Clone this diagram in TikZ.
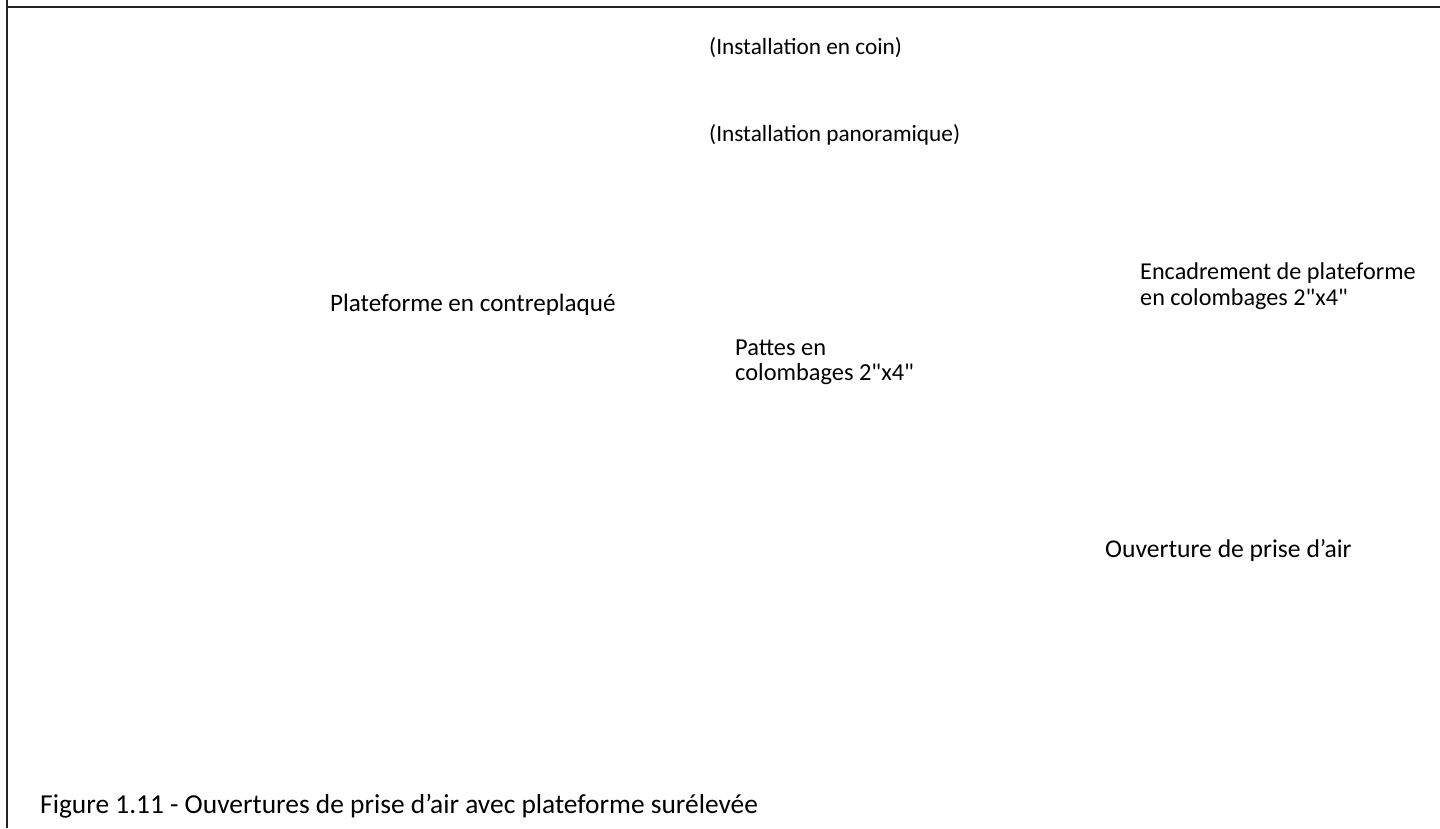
\documentclass[tikz,border=0pt]{standalone}
\usepackage{fontspec}
\setmainfont{Carlito}
\newfontfamily\plainq{Carlito}
\newcommand{\qd}{{\plainq"}}
\begin{document}
\begin{tikzpicture}[x=1pt,y=-1pt,
  lbl/.style={anchor=base west,inner sep=0pt,align=left},
  frame/.style={line width=2pt,draw={rgb,255:red,34;green,34;blue,34}}]
\useasboundingbox (0,0) rectangle (1440,828);
\coordinate (tl) at (7,7);
\coordinate (tr) at (1440,7);
\coordinate (ttop) at (7,0);
\coordinate (bl) at (7,828);
\draw[frame] (ttop) -- (bl);
\draw[frame] (tl) -- (tr);
\node[lbl,font=\fontsize{23.3}{26}\selectfont] (coin) at (709,54) {(Installation en coin)};
\node[lbl,font=\fontsize{23.3}{26}\selectfont] (pano) at (709,141) {(Installation panoramique)};
\node[lbl,font=\fontsize{24.2}{26}\selectfont] (enc) at (1140,305) {Encadrement de plateforme\\en colombages 2\qd x4\qd};
\node[lbl,font=\fontsize{25.1}{26}\selectfont] (plat) at (330,311) {Plateforme en contreplaqué};
\node[lbl,font=\fontsize{24.4}{25}\selectfont] (pattes) at (735,380) {Pattes en\\colombages 2\qd x4\qd};
\node[lbl,font=\fontsize{25.6}{26}\selectfont] (ouv) at (1105,557) {Ouverture de prise d’air};
\node[lbl,font=\fontsize{27.4}{30}\selectfont] (fig) at (40,813) {Figure 1.11 - Ouvertures de prise d’air avec plateforme surélevée};
\end{tikzpicture}
\end{document}
